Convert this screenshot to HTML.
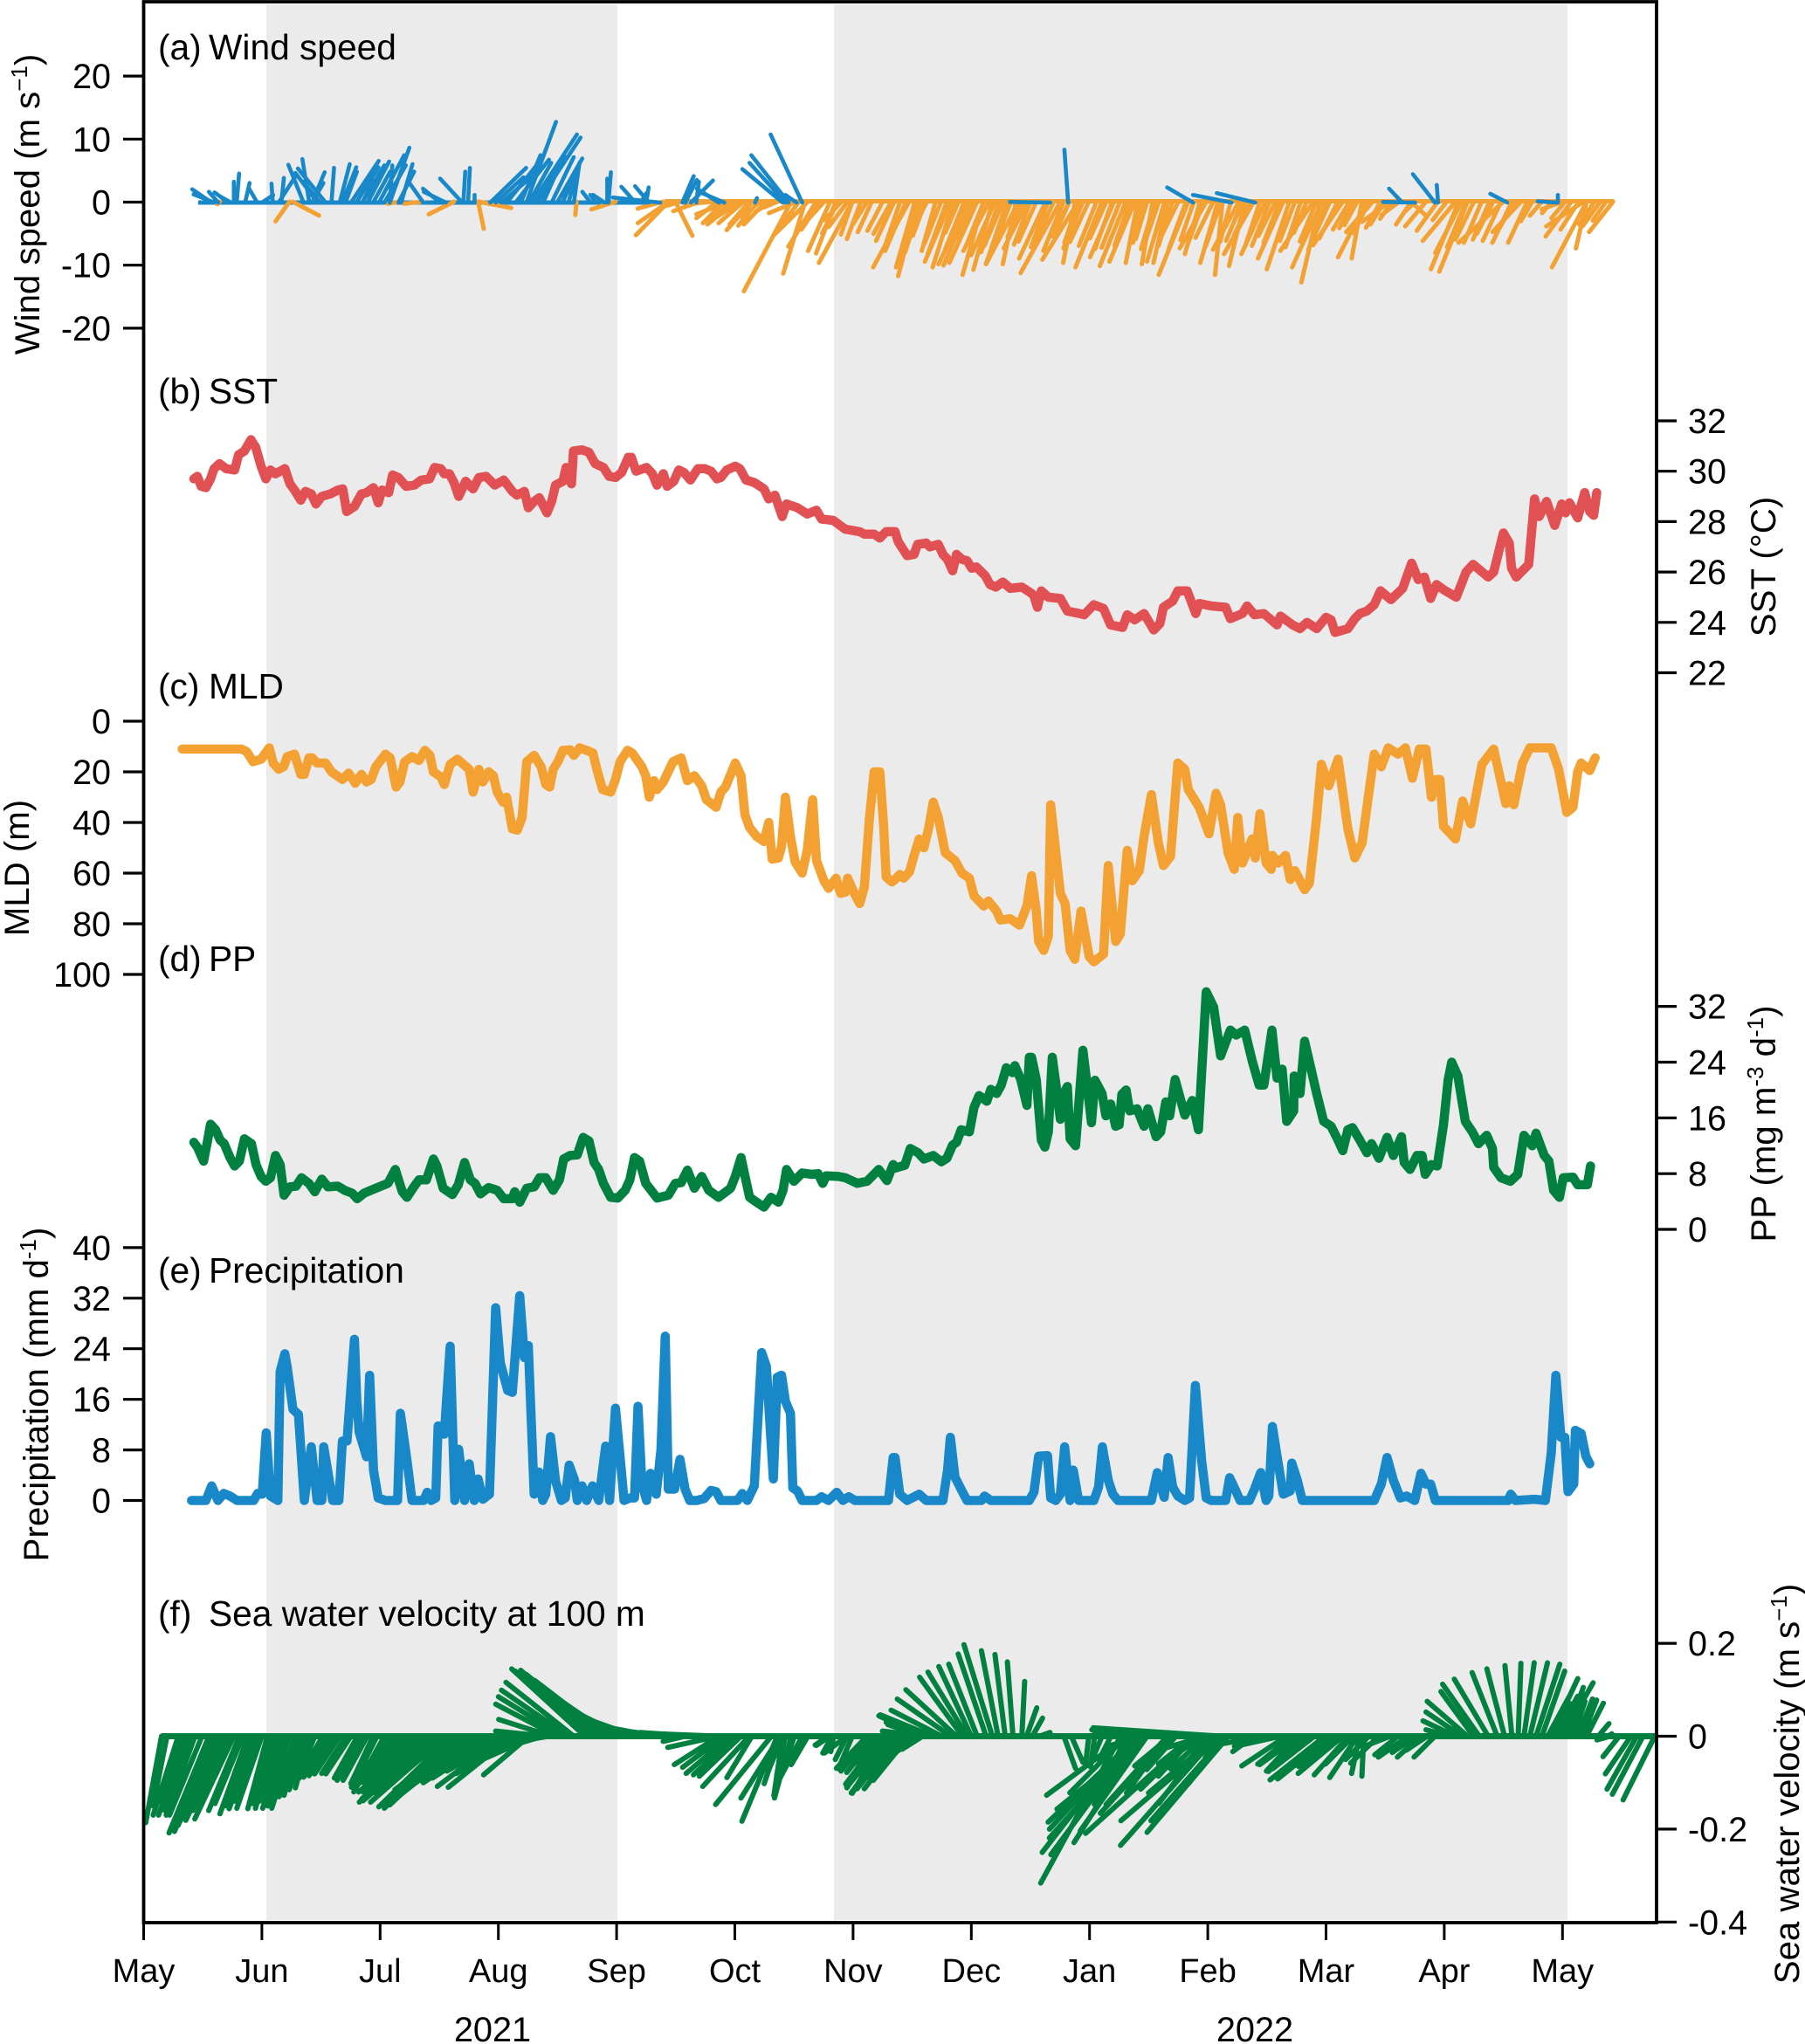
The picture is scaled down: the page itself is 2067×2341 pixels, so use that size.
<!DOCTYPE html>
<html>
<head>
<meta charset="utf-8">
<title>Time series panels</title>
<style>
html,body{margin:0;padding:0;background:#fff;}
svg{display:block;font-family:"Liberation Sans",sans-serif;}
text{fill:#000;}
</style>
</head>
<body>
<svg id="chart" xmlns="http://www.w3.org/2000/svg" width="2067" height="2341" viewBox="0 0 2067 2341">
<rect x="305" y="5" width="402" height="2194" fill="#ebebeb"/>
<rect x="955" y="5" width="840" height="2194" fill="#ebebeb"/>
<g id="marks"></g>
<g id="axes" stroke="#000" fill="none"></g>
<g id="labels"></g>
<g font-size="40.7">
<text x="181" y="68">(a)</text>
<text x="239" y="68">Wind speed</text>
<text x="181" y="462">(b)</text>
<text x="239" y="462">SST</text>
<text x="181" y="800">(c)</text>
<text x="239" y="800">MLD</text>
<text x="181" y="1112">(d)</text>
<text x="239" y="1112">PP</text>
<text x="181" y="1469">(e)</text>
<text x="239" y="1469">Precipitation</text>
<text x="181" y="1862">(f)</text>
<text x="239" y="1862">Sea water velocity at 100 m</text>
</g>
<g font-size="40.2">
<text transform="translate(45,234) rotate(-90)" text-anchor="middle">Wind speed (m s<tspan font-size="26" dy="-14">−1</tspan><tspan dy="14">)</tspan></text>
<text transform="translate(33,994) rotate(-90)" text-anchor="middle">MLD (m)</text>
<text transform="translate(55,1597) rotate(-90)" text-anchor="middle">Precipitation (mm d<tspan font-size="26" dy="-14">-1</tspan><tspan dy="14">)</tspan></text>
<text transform="translate(2033,649) rotate(-90)" text-anchor="middle">SST (°C)</text>
<text transform="translate(2033,1287) rotate(-90)" text-anchor="middle">PP (mg m<tspan font-size="26" dy="-14">-3</tspan><tspan dy="14"> d</tspan><tspan font-size="26" dy="-14">-1</tspan><tspan dy="14">)</tspan></text>
<text transform="translate(2060,2043) rotate(-90)" text-anchor="middle">Sea water velocity (m s<tspan font-size="26" dy="-14">−1</tspan><tspan dy="14">)</tspan></text>
<text x="564" y="2338" text-anchor="middle" font-size="39.7">2021</text>
<text x="1437" y="2338" text-anchor="middle" font-size="39.7">2022</text>
</g>
</svg>
<script>
const monthLabels=["May","Jun","Jul","Aug","Sep","Oct","Nov","Dec","Jan","Feb","Mar","Apr","May"];
const windTicks=[20,10,0,-10,-20];
const sstTicks=[32,30,28,26,24,22];
const mldTicks=[0,20,40,60,80,100];
const ppTicks=[32,24,16,8,0];
const precipTicks=[40,32,24,16,8,0];
const velocityTicks=[0.2,0,-0.2,-0.4];

const sstData=[[12.9,29.7],[13.8,29.8],[14.8,29.4],[16,29.35],[17.2,29.7],[18.1,30.1],[19.5,30.3],[21.2,30.1],[23.4,30.05],[24.4,30.65],[25.9,30.8],[27.6,31.25],[28.8,30.95],[30.2,30.2],[31.4,29.7],[32.6,30.05],[33.9,29.9],[36.3,30.1],[37.6,29.5],[38.8,29.25],[40.4,28.85],[41.6,29.2],[43.1,29.1],[44.3,28.7],[45.8,29],[48,29.1],[49.9,29.25],[51.2,29.3],[52.2,28.4],[54.2,28.6],[56,29.1],[57.3,29.15],[59.1,29.35],[60.3,28.75],[61.3,29.25],[63,29.15],[64,29.85],[65.5,29.75],[67.5,29.4],[69.6,29.45],[71.4,29.65],[73.5,29.7],[74.8,30.15],[76.4,30.1],[77.3,29.9],[78.6,29.9],[79.8,29.55],[81,29],[82.8,29.6],[84.7,29.3],[86.2,29.75],[88,29.8],[90.3,29.45],[92.6,29.65],[94.8,29.2],[96,29.05],[97.9,29.2],[98.9,28.55],[100.4,28.8],[101.7,28.95],[103.7,28.35],[104.9,28.8],[105.9,29.45],[107.8,29.6],[108.6,30.15],[110,29.5],[110.5,30.8],[112.7,30.85],[114.5,30.75],[116.1,30.3],[118.2,30.15],[119.7,29.8],[121.3,29.75],[122.9,29.95],[124.6,30.55],[125.4,30.55],[126.6,30],[129.3,30.15],[130.8,29.9],[132,29.45],[133.6,29.9],[134.6,29.4],[136.3,29.6],[137.6,30.05],[138.9,29.95],[140.6,29.65],[142.5,30.1],[144.3,30.1],[145.9,30],[147.4,29.7],[148.4,29.75],[149.9,30.05],[152.1,30.2],[153.3,30.1],[154.9,29.65],[157,29.55],[159.5,29.3],[160.7,28.9],[162.3,29.05],[164.2,28.2],[165.3,28.7],[168.1,28.55],[170.6,28.3],[173,28.45],[174.3,28.1],[177.3,28.05],[180.4,27.7],[184.1,27.6],[185.3,27.5],[187.8,27.5],[189.3,27.35],[190.9,27.6],[193.2,27.6],[194,27.2],[196.3,26.65],[198.1,26.7],[199,27.1],[201.2,27.15],[202.1,27],[204.3,27.1],[205.5,26.7],[206.7,26.5],[208,26.05],[209,26.7],[210.4,26.5],[211.7,26.45],[212.9,26.15],[214.1,26.2],[216.4,25.85],[217.6,25.5],[219.1,25.4],[220.9,25.6],[222.8,25.35],[225.8,25.4],[228.3,25.15],[228.9,25.05],[229.8,24.6],[230.8,25.25],[232.6,25],[235.7,24.95],[237.5,24.45],[240.6,24.35],[241.8,24.3],[244.3,24.7],[246.8,24.55],[248.6,23.9],[251.7,23.8],[252.9,24.3],[254.8,24.1],[257.2,24.35],[259.7,23.7],[261.3,23.95],[262.2,24.6],[264.6,24.85],[265.9,25.25],[268.3,25.25],[270.5,24.35],[271.4,24.75],[274.5,24.65],[278.2,24.6],[279.4,24.15],[282.5,24.35],[283.7,24.65],[285.6,24.3],[288,24.35],[291.4,23.9],[292.3,24.25],[295.4,23.9],[297.3,23.75],[299.1,24],[301.6,23.75],[304,24.2],[305.3,24.1],[306.3,23.6],[309.6,23.75],[311.4,24.15],[312.7,24.35],[314.5,24.45],[316.4,24.7],[318,25.25],[320.7,24.9],[323.7,25.35],[326,26.35],[327.7,25.7],[329.3,25.8],[330.9,24.95],[332.4,25.5],[334.2,25.3],[337.5,25],[340,26],[341.8,26.3],[345.7,25.8],[347.1,26],[349.6,27.55],[351.1,27.15],[351.7,26.15],[352.9,25.8],[356.1,26.3],[357.6,28.9],[358.8,28.2],[360.7,28.8],[362.8,27.85],[364.6,28.7],[365.6,28.35],[366.6,28.75],[368.7,28.15],[370.5,29.15],[371.8,28.4],[372.8,28.25],[373.6,29.15]];

const mldData=[[9.9,11],[25.2,11],[26.5,12],[28.1,16],[30.2,15],[32.3,10.5],[33.3,16.5],[34.7,19],[36,18],[36.9,14],[38.8,13],[40.4,21],[41.3,21],[42.5,14.5],[43.3,14.5],[44.6,16.5],[46.8,16.5],[48.3,20],[51.1,23],[52.7,20.5],[54.4,24.5],[56,21],[57.3,24],[58.5,23],[59.7,18],[62.2,13],[63.4,14.5],[64.9,26],[65.9,24],[67.1,16],[69,14],[70.8,15.5],[72.3,11.5],[73.6,13.5],[74.5,20],[76.4,22],[77.3,25],[78.8,17],[80.7,15],[83.7,19],[84.7,28],[86.2,19],[87.2,24],[88.7,20],[89.9,21.5],[90.9,28],[92.4,32],[93.3,30],[94.8,42.5],[96.1,43],[97.3,38],[98.5,16],[100.4,13.5],[102.2,18],[103.4,25],[104.4,26],[105.3,19],[106.5,16],[107.8,11.5],[109.6,11.3],[110.6,13.5],[112.1,10.5],[113.9,11.5],[115.5,12.5],[116.7,20],[118,27],[120.1,28],[121.3,23],[122.5,16],[124.4,11.5],[125.6,12.5],[128.1,18],[129.1,21.5],[130,30],[131.2,23.5],[132,27],[133.6,24],[136.1,16],[138.2,14.5],[139.8,23.5],[141.6,21.5],[143.5,25.5],[144.7,31],[147.2,34],[148.4,28],[149.6,26],[152.1,16.5],[153.6,21.5],[154.6,37],[155.8,42],[157.6,45.5],[159.5,47.5],[160.7,40],[161.6,54.5],[163.2,54],[164,49.5],[165,30],[166.3,45.5],[167.5,55.5],[169.3,60],[170.6,51],[172,31],[173,55],[174.9,63],[176.1,66],[178,62],[179.2,68],[180.4,67.5],[181,62],[182.9,68.5],[184.1,72],[185.3,65.5],[186.6,38.5],[187.8,20],[189.3,20],[190.3,42.5],[190.9,61.5],[192.4,63.5],[193.2,62.5],[194.4,60.5],[195.4,62],[196.9,59.5],[198.1,53],[199.4,46.5],[200.6,50],[201.8,42.5],[203,32],[204.3,38],[206.1,52],[208.6,55],[210.4,60],[212.3,62],[213.5,69],[216,73],[217.2,71],[219.3,75],[220.3,78.5],[222.8,78],[225.2,80.5],[227.1,73],[228.3,61],[229.5,75],[230.1,87],[231.4,90.5],[232.6,85],[233.2,33],[235.7,68],[236.9,72],[238.2,90.5],[239.4,94],[241,75],[243.1,93],[244.3,95],[246.8,92],[248,57],[249.9,87],[251.1,84],[252.9,51],[254.2,63],[256,59],[257.2,45.5],[259.1,29],[260.9,48],[262.2,57],[264,53.5],[265.9,16.5],[267.7,19],[268.6,27],[271.4,34],[273.9,44.5],[275.7,28.5],[276.9,33],[278.8,52],[280.4,58.5],[281.3,38],[282.5,56],[285,46.5],[285.8,54],[287,36.5],[288.6,56],[289.9,58.5],[290.2,53],[291.7,56],[293.6,53],[294.8,62.5],[296,59],[298.5,66.5],[299.7,64],[301.6,38],[302.8,17],[304.7,25.5],[307.1,15],[309.6,42.5],[311.4,54],[313.3,48],[314.5,34],[316.4,13],[318.2,18],[320,10.5],[322.5,13],[324.4,10.5],[326.2,22.5],[328,11],[329.7,11],[331.1,30],[332.4,23],[333.3,23],[334.2,41.5],[337.3,46.5],[339.1,31.5],[341.2,40.5],[344.1,17],[347.1,11],[350.2,32.5],[351.1,25.5],[352.3,33],[354.5,16.5],[356.4,10.5],[361.9,10.5],[363.8,19],[365.9,36],[367.5,34],[368.7,20],[369.6,16.5],[371.8,19.5],[373.2,14.5]];

const ppData=[[12.9,12.5],[13.8,11.8],[15.4,9.8],[16.4,12.6],[17.2,15.1],[18.5,14.3],[19.7,12.8],[20.7,12.3],[22.2,10.3],[23.4,9.1],[24.6,9.8],[25.9,13],[27.7,12.3],[28.9,9.3],[30.2,7.6],[31.4,6.9],[32.6,7.4],[33.9,10.6],[35.1,9.3],[36.1,4.9],[37.6,6.1],[39.2,6.2],[40.6,7.4],[42.5,6.6],[44,5.4],[45.8,7.2],[47.4,6.1],[49.9,6.2],[51.7,5.6],[53.6,5.2],[54.9,4.4],[56.7,5.2],[59.7,5.9],[62.8,6.6],[64.7,8.6],[66.5,5.4],[67.7,4.6],[69.6,6.2],[70.8,7.1],[72.7,7.1],[74.5,10.1],[75.4,9.1],[77,5.9],[79.4,5],[80.9,6.4],[82.5,9.6],[84,7.1],[85.2,6.6],[86.6,5.1],[88.7,6],[90.9,5.6],[92.6,4.4],[94.8,4.4],[95.4,5.4],[96.7,3.9],[98.5,5.9],[100.4,6.1],[101.8,7.4],[103.4,7.4],[105.3,5.6],[106.9,7.1],[108,10.1],[109.6,10.6],[111.5,10.7],[113,13.2],[114.5,12.7],[115.8,9.6],[117,8.6],[118.2,6.6],[120.1,4.6],[121.9,4.5],[123.8,5.6],[125,7.1],[126.2,10.3],[127.5,9.8],[129.1,6.6],[130.5,5.6],[132,4.5],[134.9,4.9],[136.7,6.6],[138.2,6.7],[139.8,8.5],[141.6,5.9],[143.5,7.6],[145.3,5.6],[147.8,4.6],[150.9,5.9],[152.1,7.6],[153.6,10.3],[154.9,6.9],[155.8,4.6],[157.6,3.9],[159.5,3.2],[161.3,4.6],[163.2,3.9],[164.4,5.6],[165.3,8.6],[167.2,6.9],[169.3,8.1],[171.8,7.9],[173.4,8],[174.6,6.6],[175.5,7.7],[178.6,7.6],[180.4,7.4],[183.5,6.6],[186,6.9],[189,8.6],[191.1,7],[192.7,9.3],[193.2,8.8],[195.7,9.2],[197.1,11.6],[199.1,11],[200.6,10.1],[203,10.6],[205.1,9.7],[206.5,10.2],[208,12.1],[209,12.5],[210.2,14.3],[212.3,14],[213.5,17.5],[214.8,19.2],[216.8,18.4],[217.8,20.1],[219.3,19.5],[220.5,20.7],[221.8,23.2],[223.4,22.5],[224,23.5],[225.5,21.5],[227.1,17.8],[227.7,24.7],[228.3,24.7],[229.5,21.5],[230.8,12.8],[231.7,11.8],[232.6,14],[233.6,24.7],[234.5,21],[235.7,15.8],[236.5,19.5],[237.5,20.5],[238.2,13],[239.6,12],[241.5,25.7],[242.5,21],[243.7,15.3],[244.6,21.4],[246.4,19.5],[247.4,16.3],[248.6,18],[249.9,14.8],[250.8,15],[251.5,19.4],[252.6,20],[253.5,17],[255.4,17.3],[257.2,14.8],[258.2,17.3],[260.3,13.3],[261.5,14],[262.8,18.3],[263.8,16.3],[265.2,21.5],[267.7,16.4],[269.6,18.5],[271.2,14.3],[273.2,34.1],[275.1,31.9],[276.9,24.9],[279.4,28.6],[280.9,27.9],[283.1,28.6],[285,24.2],[286.8,20.7],[288,20.7],[290.1,28.6],[291.4,21.7],[292.7,23],[293.9,15.5],[295.7,17],[295.8,22],[297.3,19.5],[298.5,27],[301.6,19.5],[303.4,15.5],[305.3,14.8],[307.1,12.8],[308.3,11.3],[309.6,14.3],[310.8,14.6],[312.7,12.8],[314.5,11],[315.7,12.3],[317.6,10.2],[319.7,13.2],[321.3,10.6],[323.4,13.3],[324.1,9.6],[325.6,8.6],[327.4,10.6],[328.7,10.6],[329.5,7.9],[331.1,9.3],[332.6,9.1],[334.2,15],[335.4,21.5],[336.3,24],[337.9,22],[339.8,15.5],[341.6,14],[343.2,12.3],[345.3,13.5],[346.8,11.6],[347.1,8.9],[349,7.4],[351.4,6.9],[353.3,7.9],[354.9,13.5],[357,12],[358,13.8],[360.1,10.6],[361.3,9.8],[362.5,5.6],[364,4.6],[365,7.4],[367.5,7.5],[368.7,6.4],[371.2,6.4],[372,9.1]];

const precipData=[[12.3,0],[16,0],[17.5,2.3],[19.1,0],[20.6,1.1],[22.2,0.7],[24,0],[28.3,0],[29.3,1.1],[30.5,1],[31.5,10.7],[32.6,0.7],[34.5,0],[35.1,20.4],[36.3,23.2],[36.9,21.1],[38.4,14.4],[39.8,13.6],[41.3,0],[43.1,8.5],[44.6,0],[45.8,0],[46.3,8.5],[48.6,0],[50.2,0],[51.1,9.4],[52.3,9.4],[54.2,25.5],[54.8,15.8],[55.4,10.8],[57.3,6.9],[58.1,19.8],[59.1,4.8],[60.3,0.4],[62.2,0],[65.3,0],[66,13.8],[67.7,6.4],[69,0],[72,0],[72.9,1.3],[73.9,0],[75.1,0.4],[75.7,11.8],[77.3,10.5],[78.8,24.4],[80,0],[81,8.1],[82.5,0],[83.7,5.8],[85,0],[86,3.4],[87.2,0.2],[88.9,1],[90.5,30.5],[91.7,21.8],[93.6,17.4],[94.8,17.1],[96.7,32.4],[97.9,22.6],[98.9,24.5],[100.4,1],[101.6,4.5],[102.6,0],[103.4,1],[104.6,10.1],[105.9,3.1],[107.4,0],[108.4,0.4],[109.4,5.6],[110.8,3.2],[111.5,0],[112.7,2.3],[113.9,0],[115.4,2.3],[117,0],[118.8,8.6],[119.8,0],[121.3,14.6],[122.8,4.8],[123.5,0],[125,0.4],[126.2,0.4],[127.1,14.9],[128.1,2.6],[129.3,0],[130.3,4.3],[131.8,1],[133,8],[134.1,26],[134.9,1.8],[136.5,1.8],[137.9,6.5],[139.2,1.8],[140.4,0],[142.2,0],[144.1,0.3],[145.9,1.6],[147.2,1.4],[148.4,0],[152.7,0],[153.9,1.1],[155.2,0],[157,2.3],[157.6,9.2],[158.9,23.4],[160.1,21.2],[161.9,3.4],[162.9,19.5],[164,19.8],[165,15.7],[166.3,13.8],[166.9,2],[168.1,1.5],[169.3,0],[173,0],[174.3,0.6],[176.1,0],[178.2,1.3],[179.8,0],[181.3,0.6],[182.9,0],[191.5,0],[192.7,6.8],[193.2,6.8],[194.4,1],[196.3,0],[199.4,1],[201.2,0],[205.5,0],[206.7,4.8],[207.4,10],[208.6,3.7],[210.4,1.5],[211.7,0],[215.4,0],[216.2,0.7],[217.8,0],[227.7,0],[228.9,1.3],[230.1,7],[232.4,7.1],[233.2,0.4],[234.5,0],[235.7,1],[236.8,8.5],[238.2,0],[239,4.8],[240.4,0],[244.3,0],[245.5,2.1],[246.5,8.5],[248,3.2],[249.2,1],[250.5,0],[259.1,0],[260.6,4.4],[262.4,0.5],[263.4,6.8],[264.6,2.1],[265.9,0.7],[267.7,0],[268.9,0.4],[270.4,18.2],[272,6.4],[273.2,0.4],[274.5,0],[278.2,0],[279.2,3.6],[280.6,1.8],[281.9,0],[284.3,0],[285.6,1.8],[287.2,4.4],[288.6,0],[289.3,0.7],[290.2,11.7],[291.7,5.9],[293,1],[294.8,1.5],[295.2,5.9],[296.6,3.2],[297.9,0],[316.4,0],[318.2,2.6],[319.7,6.8],[321.3,3.2],[323.1,0.4],[324.7,0.7],[326.8,0],[328.4,4.3],[329.7,2.6],[330.9,2.6],[332.1,0],[350.8,0],[351.5,1],[352.7,0],[357.6,0.2],[360.4,0],[361.9,7.5],[363.1,19.8],[364.4,10],[365.4,10],[366.2,1.4],[367.7,2.6],[368.1,11.1],[369.6,10.6],[370.8,7],[371.8,5.8]];

const windNorthward=[[17.5,-3.1,2.1],[18.2,-3.3,1.3],[19.2,-1.5,1.7],[21.8,-2.2,1.6],[22.5,-1.8,1],[23.2,0,3.3],[23.9,0.4,4.6],[26.1,0.7,3.1],[29.2,-1.3,2.2],[30.4,1.8,1.2],[33.2,-0.2,3],[35.4,0.4,3.9],[34.7,2.7,4.2],[41.1,-2.4,6],[44.7,-3.5,4.7],[42.6,-1.1,6.9],[46.8,-4.4,5.4],[45.4,-2.7,3.3],[43.3,2,4.8],[43.3,1.8,3.1],[48.3,0.4,5.5],[50.4,1.6,6.1],[51.1,2.2,5.6],[51.9,1.8,4.9],[53.3,4.4,6.6],[54.7,3.5,5.6],[56.2,3.5,5.9],[57.6,3.4,6.5],[59,2.7,4.9],[60.5,4,7.5],[61.9,3.4,5.9],[63.3,3.1,8.7],[66.2,1.8,6.1],[65.5,2.5,4.9],[63.3,0.4,5.9],[57.6,1.8,4.5],[56.2,1.8,3.5],[54.7,1.8,3.1],[71.9,-2.2,3.1],[76.2,-2.7,2.2],[77.7,-3.5,1.7],[81.9,-3.5,3.8],[82.2,0.3,4.9],[83.4,0.3,5.5],[85.1,0,1.2],[89.1,5.7,5.5],[90.5,4.4,4],[92,5.7,4.9],[93.4,5.7,7.2],[95.6,5.3,6.8],[97,3.1,7.5],[98.4,4.7,12.8],[99.9,7.1,10.8],[101.3,6.8,10.3],[102.7,2.2,4.9],[104.9,3.5,7.2],[106.3,4,7],[107.7,2.2,4.9],[109.2,1.3,4.4],[110.6,0.9,6.3],[100.6,4.9,7.2],[99.1,3.5,6.3],[106.3,2.7,4.5],[114.9,-1.3,1.7],[116.3,-0.9,1.2],[119.2,0,3.8],[119.5,0.4,4.8],[118.5,-1.8,1.2],[126.4,-2.2,2.5],[129.9,-2.2,2.6],[129.2,0.4,2.4],[127.8,0.9,1.5],[132.8,-7.5,0.8],[138.5,1.8,4.2],[139.3,1.8,3.6],[140.7,3.5,3.5],[142.1,0.4,3.3],[147.9,-3.5,2.2],[149.3,-4,1.7],[157.2,0.3,0.7],[164.3,-6.4,5.3],[165,-5.7,6.3],[165.8,-5.9,7.5],[169.3,-5,10.8],[167.9,-1.8,1.2],[233.1,-6.4,0.1],[237.7,-0.6,8.4],[269.8,-4.1,2.4],[279.7,-6.1,1.2],[285.8,-6.1,1.5],[323.6,-2.1,2.2],[326.9,-5.1,0.1],[332,-3.5,4.5],[332.8,-0.2,2.8],[350.6,-2.7,1.4],[363.3,-3,0.2],[363.6,0,1.2]];

const windSouthward=[[19.6,-0.4,-0.4],[37.5,-2.2,-3.1],[38.3,4.2,-2.2],[66.2,-2.2,-0.3],[71.9,-3.1,-0.3],[79.8,-4,-2],[86,0.9,-4.3],[86.2,5.1,-1],[111.3,-0.2,-2.1],[121.3,-3.8,-1.2],[135,-5.2,-5.3],[135,-4.9,-3.4],[133.5,-4,-1.1],[136.7,2.7,-5.4],[149.3,-3.4,-3.4],[152.1,-4.4,-3.6],[154.3,-4,-3.4],[156.4,-4,-4.5],[155.7,-3.1,-3.6],[157.9,-3.1,-3.8],[160,-3.5,-3.6],[146.4,-4.4,-0.4],[150.7,-5.3,-2],[153.6,-4,-2.5],[166.5,-7.5,-14.2],[170.1,-3.5,-11.4],[167.9,-4.4,-1.8],[170.8,-5.3,-5.2],[172.9,-4.4,-7.1],[176.5,-3.5,-7.8],[177.9,-3.1,-8.2],[182.2,-5.3,-9.7],[182.2,-1.8,-5.2],[184.4,-2.2,-5.9],[187.2,-2.2,-4.8],[175,-3.5,-3.8],[179.4,-2.7,-2.9],[192.2,-2.8,-5.1],[196.8,-5.7,-10.4],[196,-3.3,-7.8],[198.3,-3,-10.4],[199,-3.1,-11.8],[201.4,-2.6,-5.1],[203.6,-2.2,-7.8],[207.5,-4.1,-9.5],[208.2,-3.3,-10.4],[212,-4.7,-9.9],[212.8,-4.4,-10.1],[214.3,-4.4,-9.7],[215.9,-3.3,-11.6],[217.4,-4.1,-7.8],[218.9,-3.8,-8.5],[218.2,-3,-10.8],[222,-3.3,-9.7],[225,-5.2,-9.9],[227.3,-3.8,-7.4],[224.3,-2.1,-9.9],[231.9,-4.2,-9],[235.7,-6.3,-11.3],[240.3,-5.7,-9.2],[238,-2.8,-5.5],[239.5,-1.9,-9.7],[240.3,-2.2,-6.5],[246.4,-4.2,-10.4],[249.5,-3.8,-8.8],[252.5,-4.1,-10.2],[254.8,-4,-9.5],[255.6,-1.9,-9.7],[256.4,-1.4,-6.5],[259.4,-1.7,-9.9],[262.5,-2.8,-9.5],[263.2,-2.2,-9.7],[268.6,-4.7,-11.6],[273.2,-4.2,-7.4],[271.6,-2.4,-8.3],[276.2,-2.8,-9.7],[281.6,-4.1,-7.6],[277.4,-1.2,-11.6],[285.4,-4.7,-8.3],[283.1,-2.5,-10.2],[288.4,-3.8,-8.3],[293,-4,-9],[294.6,-3.6,-10.7],[300.7,-5.2,-7.8],[302.9,-4.7,-10.4],[302.5,-3,-12.8],[308.3,-4.7,-6.9],[314.4,-4.5,-8.8],[313.2,-1.6,-9],[316,-4.2,-4.8],[320.5,-4.5,-3.2],[322.8,-2.8,-2.1],[325.9,-2.4,-3.6],[329.7,-3.3,-3.9],[325.9,2.4,-2.3],[332.7,-3.3,-4.6],[337.3,-5.2,-6.2],[338.1,-4.4,-10.7],[338.9,-4.2,-8.1],[340.4,-4.5,-11.1],[349.6,-7.1,-6.5],[354.1,-4.5,-4.8],[351.8,-3.1,-6.5],[355.7,-3,-6.5],[359.5,-1.9,-2.2],[364.8,-3.3,-1.2],[370.2,-5.9,-3.9],[367.1,-4.1,-5.5],[371,-5.5,-10.4],[371,-1.7,-7.4],[377.8,-3.8,-4.8],[190,-2.4,-4.6],[193,-2.9,-6.2],[201,-2,-5.4],[205,-2.6,-6.6],[209.5,-2.1,-4.9],[214,-2.7,-6],[221,-3,-7],[226,-2.4,-5.6],[229.5,-2.8,-6.3],[234,-3.3,-7.1],[238,-2.2,-5],[243,-3,-6.4],[247.5,-2.6,-5.8],[251,-2.9,-7.3],[258,-1.8,-5.9],[261,-2.3,-6.8],[266,-2.6,-5.3],[270,-2.1,-6.1],[275,-2.8,-5.7],[279.5,-1.7,-6.4],[284.5,-2.5,-5.2],[287,-2.2,-6.6],[291,-2.7,-5.4],[296,-2.4,-6.2],[299,-2,-4.9],[305,-3.1,-6.8],[310,-2.6,-4.4],[312,-2,-3.7],[318,-2.3,-4.1],[321,-1.9,-2.7],[327,-1.6,-1.5],[335,-2.2,-2.9],[342,-2.9,-6],[347,-2.6,-5.1],[352.5,-2.4,-4.2],[357,-1.8,-3.1],[362,-1.5,-1.8],[373,-2.4,-3.6],[376,-2.1,-3],[138,-3.1,-0.9],[143,-4.2,-1.5],[147.5,-3.3,-2.6],[151.5,-3.6,-2.8],[158.5,-2.9,-2.4],[161.5,-2.6,-1.6],[163,-2.2,-0.9],[168.5,-2.4,-3.2],[174,-3,-4.4],[178.5,-2.5,-5],[181,-3,-4],[186,-2.2,-3.5],[194.5,-2.4,-7],[200,-2.6,-8],[206.5,-3,-8.2],[211,-3,-7.5],[216,-2.8,-7],[220,-2.9,-8],[223,-3,-7.8],[228,-2.6,-6.8],[232.5,-2.7,-7.2],[236.5,-3.2,-7.8],[241.5,-3.1,-7.4],[245,-2.8,-7],[249,-2.7,-7.5],[253.5,-2.4,-7],[257,-1.6,-6.5],[260,-2.2,-7.5],[264.5,-2.2,-7],[268,-2.8,-7.6],[272.5,-2.4,-6.5],[277,-2.4,-7],[282.5,-2.6,-6.2],[289.5,-2.8,-7],[292,-2.5,-6.5],[297.5,-2.4,-7.2],[301.5,-2.6,-6.3],[304,-2.8,-7.6],[307,-2.9,-5.8],[311,-2.2,-4.2],[315,-2.4,-5],[319,-2.2,-3.6],[340,-3,-7.2],[344,-2.8,-6.5],[346,-2.6,-6],[349,-2.9,-6.2],[365.5,-2.2,-2.6],[369,-2.9,-4.4],[374.5,-2.8,-3.9]];

const velocityData=[[4.6,-.034,-.186],[8.9,-.054,-.17],[11,-.06,-.17],[13.2,-.062,-.17],[16.8,-.086,-.208],[18.2,-.086,-.205],[19.6,-.09,-.192],[21.1,-.086,-.181],[23.2,-.084,-.178],[24.6,-.066,-.16],[26.8,-.06,-.167],[28.9,-.058,-.156],[30.4,-.054,-.155],[31.8,-.042,-.156],[34,-.044,-.155],[36.1,-.046,-.155],[38.9,-.05,-.155],[40.4,-.036,-.127],[42.6,-.03,-.111],[47.6,-.054,-.088],[50.4,-.054,-.081],[53.3,-.054,-.081],[56.2,-.054,-.095],[59,-.048,-.102],[61.9,-.066,-.12],[74.8,-.162,-.142],[76.2,-.166,-.139],[77.7,-.162,-.142],[79.1,-.156,-.152],[80.5,-.156,-.155],[81.9,-.156,-.148],[84.8,-.162,-.13],[87.7,-.156,-.105],[89.8,-.15,-.1],[92.7,-.144,-.108],[94.8,-.138,-.11],[99.1,-.098,-.083],[100.6,-.138,-.061],[66.2,-.084,-.117],[63.3,-.054,-.092],[69,-.096,-.111],[71.9,-.108,-.117],[89.1,-.156,-.086],[94.8,-.144,-.067],[99.1,-.12,-.042],[100.6,-.096,-.036],[102.7,-.078,-.023],[104.1,-.066,-.011],[6,-.03,-.15],[10,-.05,-.14],[12,-.055,-.16],[15,-.07,-.17],[17.5,-.075,-.185],[20.5,-.08,-.17],[22,-.078,-.16],[25.5,-.06,-.145],[27.8,-.055,-.15],[29.6,-.05,-.14],[33,-.043,-.145],[35,-.044,-.14],[37.5,-.047,-.15],[39.6,-.04,-.13],[41.5,-.034,-.115],[44,-.04,-.1],[46,-.05,-.09],[49,-.054,-.085],[52,-.052,-.08],[55,-.05,-.09],[57.5,-.052,-.095],[60,-.055,-.11],[65,-.07,-.1],[68,-.08,-.1],[70.5,-.09,-.1],[73,-.1,-.11],[83,-.15,-.13],[86,-.155,-.115],[91,-.14,-.09],[96,-.13,-.08],[75.5,-.16,-.12],[78.4,-.155,-.125],[82.5,-.15,-.115],[85.5,-.145,-.1],[88.5,-.14,-.09],[93.5,-.13,-.075],[97.5,-.115,-.06],[70,-.12,-.1],[72,-.14,-.12],[74,-.15,-.135],[67,-.09,-.09],[64,-.07,-.08],[103.4,-.108,.011],[104.9,-.114,.036],[106.3,-.132,.069],[107.7,-.138,.085],[109.2,-.144,.099],[110.6,-.146,.116],[113.5,-.158,.145],[114.9,-.162,.14],[116.3,-.162,.142],[117.7,-.162,.133],[119.2,-.156,.12],[120.6,-.15,.102],[122,-.144,.083],[123.5,-.138,.068],[124.9,-.132,.049],[126.3,-.108,.039],[127.8,-.096,.027],[131.4,-.096,.018],[135,-.096,.011],[140.7,-.108,.008],[147.9,-.132,.005],[139.3,-.048,-.011],[147.9,-.11,-.024],[147.9,-.096,-.061],[149.3,-.09,-.067],[150.7,-.094,-.08],[152.1,-.09,-.083],[153.6,-.09,-.086],[155.7,-.1,-.108],[161.4,-.12,-.147],[156.4,-.054,-.089],[163.6,-.084,-.133],[162.9,-.076,-.183],[163.6,-.034,-.102],[166.5,-.036,-.133],[169.3,-.054,-.102],[170.8,-.036,-.061],[176.5,-.03,-.02],[180.8,-.048,-.036],[182.2,-.03,-.07],[188,-.06,-.111],[190.8,-.072,-.123],[192.3,-.078,-.086],[196.8,-.077,-.095],[197.5,-.07,-.064],[189.8,-.078,-.103],[191.3,-.088,-.11],[192.8,-.091,-.122],[194.3,-.091,-.113],[195.8,-.088,-.113],[197.3,-.088,-.091],[198.8,-.069,-.053],[200.3,-.044,-.028],[188.3,-.063,-.078],[186,-.066,-.069],[186.8,-.063,-.075],[180.8,-.025,-.05],[177,-.02,-.036],[177.4,-.006,-.033],[176,-.028,-.019],[167.3,-.019,-.056],[164.3,-.019,-.128],[165,-.019,-.085],[164.3,-.031,-.075],[169.6,-.028,-.047],[201,-.091,.009],[200.6,-.097,.044],[200.3,-.075,.025],[201.4,-.096,.011],[202.9,-.113,.046],[204.4,-.113,.03],[205.2,-.109,.056],[207.5,-.115,.08],[209,-.109,.1],[210.5,-.092,.127],[211.7,-.084,.138],[212.8,-.07,.15],[214.3,-.061,.155],[216.6,-.06,.177],[218.2,-.061,.197],[219.7,-.036,.184],[221.5,-.022,.176],[223.5,-.012,.16],[225.8,.006,.118],[227,.022,.061],[228.5,.022,.039],[230.4,.022,.008],[236.6,.025,-.069],[238.5,.025,-.056],[252.7,-.172,-.127],[252.7,-.122,-.122],[258,-.194,-.157],[255.7,-.194,-.185],[255,-.185,-.2],[256.4,-.197,-.219],[254.2,-.194,-.25],[255.7,-.188,-.255],[251.2,-.172,-.316],[269.9,-.232,-.209],[276.7,-.213,-.182],[275.9,-.207,-.235],[278.9,-.175,-.207],[278.1,-.16,-.182],[275.9,-.147,-.122],[269.9,-.075,-.06],[272.2,-.069,-.047],[254.9,-.038,-.078],[253.4,-.05,-.11],[252.7,-.069,-.147],[263.2,-.088,-.122],[263.2,-.132,-.147],[244.5,-.009,-.066],[243,-.006,-.053],[265.4,-.063,-.072],[274.4,-.056,-.06],[275.9,-.025,-.047],[263.9,-.15,-.166],[258,-.144,-.204],[256.4,-.144,-.229],[258,-.088,-.022],[272.9,-.094,-.028],[277,-.275,.018],[271.6,-.233,.014],[267,-.189,.011],[262,-.14,.012],[255.6,-.058,-.089],[264,-.077,-.064],[270.1,-.077,-.086],[273.2,-.077,-.07],[276.2,-.051,-.051],[248.7,-.026,-.051],[246.4,-.019,-.045],[255.6,-.032,-.033],[270.1,-.115,-.114],[274.7,-.09,-.114],[274,-.109,-.145],[277.8,-.077,-.102],[293.8,-.096,-.064],[296.9,-.083,-.061],[299.1,-.083,-.076],[303.7,-.118,-.094],[305.3,-.115,-.092],[308.3,-.096,-.08],[309.8,-.074,-.083],[312.1,-.06,-.089],[312.6,-.017,-.08],[313.7,-.004,-.086],[317.5,-.06,-.058],[325.1,-.064,-.045],[328.2,-.049,-.045],[332,-.045,-.045],[320.5,-.051,-.02],[285.4,-.045,-.033],[299.1,-.051,-.039],[295.4,-.075,-.06],[296.9,-.069,-.075],[292.4,-.1,-.022],[287.9,-.088,-.016],[301,-.09,-.07],[306.5,-.08,-.065],[311,-.06,-.06],[315,-.05,-.05],[322.5,-.05,-.04],[327,-.05,-.035],[330,-.045,-.03],[335.8,-.051,.014],[337.3,-.07,.033],[338.9,-.077,.052],[340.4,-.087,.075],[341.9,-.07,.096],[343.4,-.079,.112],[345.7,-.073,.123],[348,-.054,.137],[349.9,-.038,.145],[351.8,-.015,.152],[353.4,.006,.157],[354.9,.022,.158],[356.4,.038,.158],[358,.051,.155],[359.5,.049,.14],[361.8,.058,.124],[364.8,.066,.115],[365.6,.038,.105],[361,.045,.083],[363.3,.045,.086],[362.2,.04,.07],[364.2,.035,.08],[366.5,.03,.09],[367.6,.025,.075],[370,.03,.078],[368.7,.032,.08],[371,.036,.071],[374,.023,.027],[376.3,.01,.005],[377,-.028,-.008],[379.4,-.035,-.044],[382.4,-.055,-.081],[383.9,-.064,-.114],[385.5,-.066,-.125],[388.5,-.068,-.137]];

const SVGNS="http://www.w3.org/2000/svg";
const marks=document.getElementById("marks");
const axes=document.getElementById("axes");
const labels=document.getElementById("labels");

function xDay(d){return 164.5+d*4.454;}
function yWind(v){return 231.5-v*7.22;}
function ySst(v){return 482+(32-v)*28.85;}
function yMld(v){return 826+v*2.9;}
function yPp(v){return 1408-v*7.98;}
function yPrecip(v){return 1718.5-v*7.24;}
function yVel(v){return 1988.5-v*532;}

function makeLine(x1,y1,x2,y2,stroke,width){
  const l=document.createElementNS(SVGNS,"line");
  l.setAttribute("x1",x1.toFixed(1));
  l.setAttribute("y1",y1.toFixed(1));
  l.setAttribute("x2",x2.toFixed(1));
  l.setAttribute("y2",y2.toFixed(1));
  l.setAttribute("stroke",stroke);
  l.setAttribute("stroke-width",width);
  return l;
}
function makeText(x,y,str,anchor,size){
  const t=document.createElementNS(SVGNS,"text");
  t.setAttribute("x",x);
  t.setAttribute("y",y);
  t.setAttribute("text-anchor",anchor);
  t.setAttribute("font-size",size);
  t.textContent=str;
  return t;
}
function drawSeries(data,yFn,color,name){
  const p=document.createElementNS(SVGNS,"polyline");
  p.setAttribute("points",data.map(function(r){return xDay(r[0]).toFixed(1)+","+yFn(r[1]).toFixed(1);}).join(" "));
  p.setAttribute("fill","none");
  p.setAttribute("stroke",color);
  p.setAttribute("stroke-width","10.5");
  p.setAttribute("stroke-linejoin","round");
  p.setAttribute("stroke-linecap","round");
  
  
  marks.appendChild(p);
}
function drawSticks(data,y0,scale,color,width,name){
  const g=document.createElementNS(SVGNS,"g");
  g.setAttribute("stroke-linecap","round");
  
  
  data.forEach(function(r){
    const xb=xDay(r[0]);
    const l=makeLine(xb,y0,xb+r[1]*scale,y0-r[2]*scale,color,width);
    
    
    g.appendChild(l);
  });
  marks.appendChild(g);
}
function drawBase(d1,d2,y,color,width,name){
  const l=makeLine(xDay(d1),y,xDay(d2),y,color,width);
  
  
  marks.appendChild(l);
}
function drawYAxis(ticks,yFn,side,name,fmt){
  ticks.forEach(function(v){
    const y=yFn(v);
    const x1=side==="left"?141:1897;
    const x2=side==="left"?165:1920;
    const l=makeLine(x1,y,x2,y,"#000",3.2);
    
    
    axes.appendChild(l);
    const str=fmt?fmt(v):String(v);
    const t=makeText(side==="left"?127:1933,(y+14).toFixed(1),str,side==="left"?"end":"start",39.5);
    
    
    labels.appendChild(t);
  });
}

drawBase(14,134,232,"#1888c9",5,"wind-baseline-northward");
drawBase(134,378,230.5,"#f4a133",5,"wind-baseline-southward");
drawSticks(windSouthward,231,7.22,"#f4a133",5,"wind-stick-southward");
drawSticks(windNorthward,232,7.22,"#1888c9",4.6,"wind-stick-northward");
drawSeries(sstData,ySst,"#e15154","sst-line");
drawSeries(mldData,yMld,"#f4a133","mld-line");
drawSeries(ppData,yPp,"#02803f","pp-line");
drawSeries(precipData,yPrecip,"#1888c9","precipitation-line");
drawBase(4.6,389,yVel(0),"#02803f",7,"velocity-baseline");
drawSticks(velocityData,yVel(0),532,"#02803f",6,"velocity-stick");

drawYAxis(windTicks,yWind,"left","wind-y-axis");
drawYAxis(mldTicks,yMld,"left","mld-y-axis");
drawYAxis(precipTicks,yPrecip,"left","precipitation-y-axis");
drawYAxis(sstTicks,ySst,"right","sst-y-axis");
drawYAxis(ppTicks,yPp,"right","pp-y-axis");
drawYAxis(velocityTicks,yVel,"right","velocity-y-axis",function(v){return v===0?"0":v.toFixed(1);});

monthLabels.forEach(function(m,i){
  const x=164.5+i*135.4;
  const l=makeLine(x,2202,x,2222,"#000",3);
  
  
  axes.appendChild(l);
  const t=makeText(x.toFixed(1),2270,m,"middle",38);
  
  
  labels.appendChild(t);
});

const frame=document.createElementNS(SVGNS,"rect");
frame.setAttribute("x","164.5");
frame.setAttribute("y","2");
frame.setAttribute("width","1732.5");
frame.setAttribute("height","2200");
frame.setAttribute("fill","none");
frame.setAttribute("stroke","#000");
frame.setAttribute("stroke-width","3.8");


axes.appendChild(frame);
</script>
</body>
</html>
